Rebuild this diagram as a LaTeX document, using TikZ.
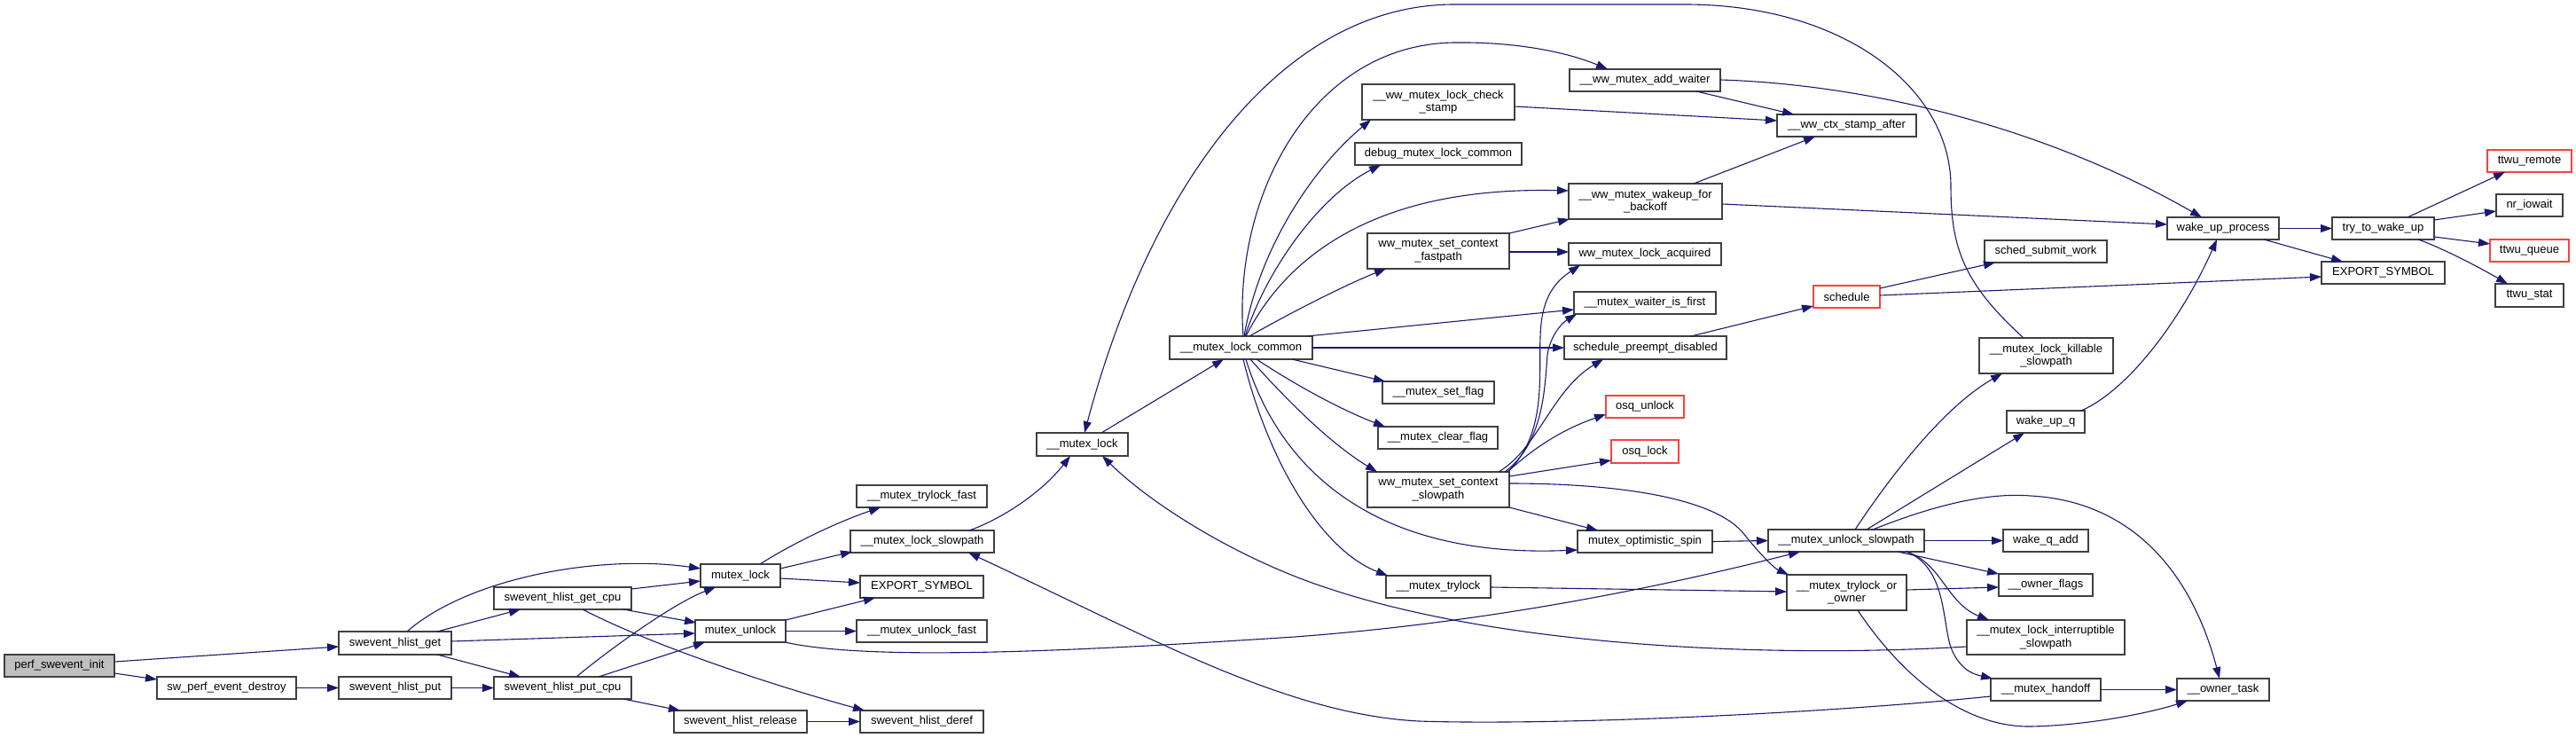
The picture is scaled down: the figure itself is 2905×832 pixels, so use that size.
\documentclass[tikz,border=0pt]{standalone}
\usepackage{fontspec}
\setmainfont{Liberation Sans}
\usetikzlibrary{arrows.meta,calc}
\definecolor{edgeblue}{RGB}{25,25,112}
\definecolor{redb}{RGB}{255,64,64}
\definecolor{greyfill}{RGB}{191,191,191}
\newcommand\nw[3]{($(#1.north west)+(#2,#3)$)}
\begin{document}
\begin{tikzpicture}[x=1pt,y=-1pt,
  box/.style={draw=black!75, line width=1.6pt, fill=white, inner sep=0pt, outer sep=0pt,
    align=center, font=\fontsize{13}{14.5}\selectfont, text=black},
  redbox/.style={box, draw=redb},
  ca/.style={draw=edgeblue, line width=1.1pt, -{Triangle[length=13pt,width=9pt]}, fill=none}]
\useasboundingbox (0,0) rectangle (2905,832);
% nodes
\node[box, fill=greyfill, minimum width=124pt, minimum height=25pt] (pinit) at (67,750.5) {perf\_swevent\_init};
\node[box, minimum width=157pt, minimum height=25pt] (swdestroy) at (255.5,775.5) {sw\_perf\_event\_destroy};
\node[box, minimum width=127pt, minimum height=26pt] (hget) at (445.5,725) {swevent\_hlist\_get};
\node[box, minimum width=127pt, minimum height=25pt] (hput) at (445.5,775.5) {swevent\_hlist\_put};
\node[box, minimum width=155pt, minimum height=25pt] (hgetcpu) at (634.5,674.5) {swevent\_hlist\_get\_cpu};
\node[box, minimum width=155pt, minimum height=25pt] (hputcpu) at (634.5,775.5) {swevent\_hlist\_put\_cpu};
\node[box, minimum width=90pt, minimum height=26pt] (mlock) at (835,649) {mutex\_lock};
\node[box, minimum width=102pt, minimum height=25pt] (munlock) at (835,711.5) {mutex\_unlock};
\node[box, minimum width=150pt, minimum height=25pt] (hrelease) at (835,813.5) {swevent\_hlist\_release};
\node[box, minimum width=147pt, minimum height=25pt] (trylockfast) at (1039.5,559.5) {\_\_mutex\_trylock\_fast};
\node[box, minimum width=162pt, minimum height=25pt] (lockslow) at (1040,610.5) {\_\_mutex\_lock\_slowpath};
\node[box, minimum width=139pt, minimum height=25pt] (exportL) at (1039.5,661.5) {EXPORT\_SYMBOL};
\node[box, minimum width=147pt, minimum height=25pt] (unlockfast) at (1039.5,711.5) {\_\_mutex\_unlock\_fast};
\node[box, minimum width=139pt, minimum height=25pt] (hderef) at (1039.5,813.5) {swevent\_hlist\_deref};
\node[box, minimum width=103pt, minimum height=26pt] (ulock) at (1220.5,501) {\_\_mutex\_lock};
\node[box, minimum width=161pt, minimum height=26pt] (lcommon) at (1399.5,392) {\_\_mutex\_lock\_common};
\node[box, minimum width=172pt, minimum height=40pt] (checkstamp) at (1622,115) {\_\_ww\_mutex\_lock\_check\\\_stamp};
\node[box, minimum width=188pt, minimum height=25pt] (debugcommon) at (1622,173.5) {debug\_mutex\_lock\_common};
\node[box, minimum width=160pt, minimum height=40pt] (fastpath) at (1622,283) {ww\_mutex\_set\_context\\\_fastpath};
\node[box, minimum width=126pt, minimum height=25pt] (setflag) at (1622,442.5) {\_\_mutex\_set\_flag};
\node[box, minimum width=135pt, minimum height=25pt] (clearflag) at (1621.5,493.5) {\_\_mutex\_clear\_flag};
\node[box, minimum width=160pt, minimum height=40pt] (slowpathctx) at (1622,552) {ww\_mutex\_set\_context\\\_slowpath};
\node[box, minimum width=118pt, minimum height=25pt] (trylock) at (1622,661.5) {\_\_mutex\_trylock};
\node[box, minimum width=170pt, minimum height=25pt] (addwaiter) at (1855,90.5) {\_\_ww\_mutex\_add\_waiter};
\node[box, minimum width=173pt, minimum height=40pt] (wakeupbackoff) at (1855.5,227) {\_\_ww\_mutex\_wakeup\_for\\\_backoff};
\node[box, minimum width=172pt, minimum height=25pt] (lockacq) at (1855,286.5) {ww\_mutex\_lock\_acquired};
\node[box, minimum width=160pt, minimum height=25pt] (waiterfirst) at (1855,341.5) {\_\_mutex\_waiter\_is\_first};
\node[box, minimum width=183pt, minimum height=26pt] (schedpreempt) at (1855.5,392) {schedule\_preempt\_disabled};
\node[redbox, minimum width=88pt, minimum height=25pt] (osqunlock) at (1855,458.5) {osq\_unlock};
\node[redbox, minimum width=76pt, minimum height=26pt] (osqlock) at (1855,509) {osq\_lock};
\node[box, minimum width=152pt, minimum height=25pt] (optspin) at (1855,610.5) {mutex\_optimistic\_spin};
\node[box, minimum width=157pt, minimum height=25pt] (stampafter) at (2082.5,141.5) {\_\_ww\_ctx\_stamp\_after};
\node[redbox, minimum width=75pt, minimum height=25pt] (schedule) at (2082.5,334.5) {schedule};
\node[box, minimum width=176pt, minimum height=25pt] (unlockslow) at (2082,609.5) {\_\_mutex\_unlock\_slowpath};
\node[box, minimum width=135pt, minimum height=40pt] (trylockowner) at (2082.5,668) {\_\_mutex\_trylock\_or\\\_owner};
\node[box, minimum width=138pt, minimum height=25pt] (submitwork) at (2307,283.5) {sched\_submit\_work};
\node[box, minimum width=151pt, minimum height=40pt] (killable) at (2307.5,401) {\_\_mutex\_lock\_killable\\\_slowpath};
\node[box, minimum width=88pt, minimum height=25pt] (wakeupq) at (2307,475.5) {wake\_up\_q};
\node[box, minimum width=96pt, minimum height=25pt] (wakeqadd) at (2307,609.5) {wake\_q\_add};
\node[box, minimum width=106pt, minimum height=25pt] (ownerflags) at (2307,659.5) {\_\_owner\_flags};
\node[box, minimum width=178pt, minimum height=39pt] (interruptible) at (2307,718.5) {\_\_mutex\_lock\_interruptible\\\_slowpath};
\node[box, minimum width=124pt, minimum height=25pt] (handoff) at (2307,777.5) {\_\_mutex\_handoff};
\node[box, minimum width=126pt, minimum height=25pt] (wakeupproc) at (2507,257.5) {wake\_up\_process};
\node[box, minimum width=104pt, minimum height=25pt] (ownertask) at (2507,777.5) {\_\_owner\_task};
\node[box, minimum width=115pt, minimum height=25pt] (trywake) at (2687.5,257.5) {try\_to\_wake\_up};
\node[box, minimum width=139pt, minimum height=25pt] (exportR) at (2687.5,307.5) {EXPORT\_SYMBOL};
\node[redbox, minimum width=95pt, minimum height=25pt] (ttwuremote) at (2852.5,181.5) {ttwu\_remote};
\node[box, minimum width=75pt, minimum height=25pt] (nriowait) at (2852.5,231.5) {nr\_iowait};
\node[redbox, minimum width=89pt, minimum height=25pt] (ttwuqueue) at (2852.5,282.5) {ttwu\_queue};
\node[box, minimum width=77pt, minimum height=26pt] (ttwustat) at (2852.5,333) {ttwu\_stat};
% edges
\draw[ca] \nw{pinit}{124}{8} -- \nw{hget}{0}{17};
\draw[ca] \nw{pinit}{124}{21} -- \nw{swdestroy}{0}{3};
\draw[ca] (swdestroy.east) -- (hput.west);
\draw[ca] \nw{hget}{77}{0} .. controls (530,650) and (680,625) .. \nw{mlock}{0}{5};
\draw[ca] \nw{hget}{111}{0} -- \nw{hgetcpu}{30}{25};
\draw[ca] \nw{hget}{127}{11} -- \nw{munlock}{0}{15};
\draw[ca] \nw{hget}{111}{26} -- \nw{hputcpu}{30}{0};
\draw[ca] (hput.east) -- (hputcpu.west);
\draw[ca] \nw{hgetcpu}{155}{2} -- \nw{mlock}{0}{19};
\draw[ca] \nw{hgetcpu}{146}{25} -- \nw{munlock}{1}{3};
\draw[ca] \nw{hgetcpu}{100}{25} .. controls (740,730) and (880,775) .. \nw{hderef}{5}{0};
\draw[ca] \nw{hputcpu}{93}{0} .. controls (690,730) and (760,680) .. \nw{mlock}{17}{26};
\draw[ca] \nw{hputcpu}{118}{0} -- \nw{munlock}{11}{25};
\draw[ca] \nw{hputcpu}{146}{25} -- \nw{hrelease}{7}{0};
\draw[ca] (hrelease.east) -- (hderef.west);
\draw[ca] \nw{mlock}{67}{0} .. controls (890,615) and (940,590) .. \nw{trylockfast}{27}{25};
\draw[ca] \nw{mlock}{90}{5} -- \nw{lockslow}{2}{24};
\draw[ca] \nw{mlock}{90}{16} -- \nw{exportL}{0}{8};
\draw[ca] \nw{munlock}{102}{0} -- \nw{exportL}{17}{25};
\draw[ca] (munlock.east) -- (unlockfast.west);
\draw[ca] \nw{munlock}{101}{25} .. controls (980,745) and (1200,735) .. (1460,718) .. controls (1700,700) and (1900,655) .. \nw{unlockslow}{36}{25};
\draw[ca] \nw{lockslow}{134}{0} .. controls (1130,585) and (1175,555) .. \nw{ulock}{38}{26};
\draw[ca] \nw{ulock}{73}{0} -- \nw{lcommon}{61}{26};
\draw[ca] \nw{killable}{50}{0} .. controls (2215,320) and (2200,280) .. (2200,210) .. controls (2200,100) and (2080,5) .. (1900,5) -- (1640,5) .. controls (1450,5) and (1300,200) .. \nw{ulock}{54}{0};
\draw[ca] \nw{interruptible}{0}{30} .. controls (2000,742) and (1700,730) .. (1500,664) .. controls (1400,632) and (1300,570) .. \nw{ulock}{74}{26};
\draw[ca] \nw{handoff}{0}{20} .. controls (2050,805) and (1750,818) .. (1600,813) .. controls (1450,805) and (1300,720) .. \nw{lockslow}{133}{25};
\draw[ca] \nw{lcommon}{83}{0} .. controls (1390,220) and (1480,50) .. (1640,48) .. controls (1720,47) and (1775,62) .. \nw{addwaiter}{43}{0};
\draw[ca] \nw{lcommon}{84}{0} .. controls (1420,280) and (1480,190) .. \nw{checkstamp}{10}{40};
\draw[ca] \nw{lcommon}{85}{0} .. controls (1430,300) and (1490,220) .. \nw{debugcommon}{29}{25};
\draw[ca] \nw{lcommon}{86}{0} .. controls (1450,290) and (1550,210) .. \nw{wakeupbackoff}{0}{8};
\draw[ca] \nw{lcommon}{90}{0} .. controls (1460,350) and (1520,320) .. \nw{fastpath}{21}{40};
\draw[ca] \nw{lcommon}{155}{0} -- \nw{waiterfirst}{0}{20};
\draw[ca] (lcommon.east) -- (schedpreempt.west);
\draw[ca] \nw{lcommon}{138}{26} -- \nw{setflag}{3}{0};
\draw[ca] \nw{lcommon}{98}{26} .. controls (1470,440) and (1520,465) .. \nw{clearflag}{8}{0};
\draw[ca] \nw{lcommon}{91}{26} .. controls (1450,450) and (1500,500) .. \nw{slowpathctx}{11}{0};
\draw[ca] \nw{lcommon}{86}{26} .. controls (1440,520) and (1540,630) .. \nw{optspin}{0}{22};
\draw[ca] \nw{lcommon}{83}{26} .. controls (1430,520) and (1490,620) .. \nw{trylock}{2}{0};
\draw[ca] \nw{fastpath}{160}{0} -- \nw{wakeupbackoff}{1}{40};
\draw[ca] \nw{fastpath}{160}{21} -- \nw{lockacq}{0}{10};
\draw[ca] \nw{slowpathctx}{158}{0} .. controls (1745,490) and (1735,420) .. (1737,380) .. controls (1738,340) and (1750,320) .. \nw{lockacq}{13}{25};
\draw[ca] \nw{slowpathctx}{155}{0} .. controls (1740,500) and (1742,440) .. (1745,400) .. controls (1748,380) and (1760,365) .. \nw{waiterfirst}{3}{25};
\draw[ca] \nw{slowpathctx}{148}{0} .. controls (1735,505) and (1750,440) .. \nw{schedpreempt}{44}{26};
\draw[ca] \nw{slowpathctx}{158}{0} .. controls (1730,505) and (1760,485) .. \nw{osqunlock}{0}{21};
\draw[ca] \nw{slowpathctx}{160}{5} -- \nw{osqlock}{0}{23};
\draw[ca] \nw{slowpathctx}{160}{13} .. controls (1820,545) and (1930,560) .. (1965,600) .. controls (1985,625) and (2000,640) .. \nw{trylockowner}{2}{0};
\draw[ca] \nw{slowpathctx}{160}{40} -- \nw{optspin}{23}{0};
\draw[ca] \nw{checkstamp}{172}{25} -- \nw{stampafter}{0}{7};
\draw[ca] \nw{addwaiter}{143}{25} -- \nw{stampafter}{19}{0};
\draw[ca] \nw{addwaiter}{170}{12} .. controls (2100,95) and (2300,140) .. \nw{wakeupproc}{39}{0};
\draw[ca] \nw{wakeupbackoff}{141}{0} -- \nw{stampafter}{43}{25};
\draw[ca] \nw{wakeupbackoff}{173}{23} -- \nw{wakeupproc}{0}{8};
\draw[ca] \nw{schedpreempt}{143}{0} -- \nw{schedule}{0}{23};
\draw[ca] \nw{schedule}{75}{3} -- \nw{submitwork}{12}{25};
\draw[ca] \nw{schedule}{75}{11} -- \nw{exportR}{0}{17};
\draw[ca] (wakeupproc.east) -- (trywake.west);
\draw[ca] \nw{wakeupproc}{109}{25} -- \nw{exportR}{24}{0};
\draw[ca] \nw{trywake}{85}{0} -- \nw{ttwuremote}{20}{25};
\draw[ca] \nw{trywake}{115}{3} -- \nw{nriowait}{0}{19};
\draw[ca] \nw{trywake}{115}{22} -- \nw{ttwuqueue}{0}{5};
\draw[ca] \nw{trywake}{97}{25} .. controls (2750,278) and (2790,298) .. \nw{ttwustat}{14}{0};
\draw[ca] \nw{wakeupq}{84}{0} .. controls (2400,440) and (2460,360) .. \nw{wakeupproc}{56}{25};
\draw[ca] \nw{unlockslow}{98}{0} .. controls (2130,540) and (2190,460) .. \nw{killable}{26}{40};
\draw[ca] \nw{unlockslow}{111}{0} -- \nw{wakeupq}{20}{25};
\draw[ca] \nw{unlockslow}{118}{0} .. controls (2180,570) and (2240,555) .. (2290,559) .. controls (2400,565) and (2470,640) .. \nw{ownertask}{48}{0};
\draw[ca] (unlockslow.east) -- (wakeqadd.west);
\draw[ca] \nw{unlockslow}{146}{25} -- \nw{ownerflags}{0}{0};
\draw[ca] \nw{unlockslow}{156}{25} .. controls (2190,635) and (2195,680) .. \nw{interruptible}{25}{0};
\draw[ca] \nw{unlockslow}{156}{25} .. controls (2195,640) and (2190,700) .. (2200,730) .. controls (2210,755) and (2225,760) .. \nw{handoff}{2}{0};
\draw[ca] \nw{trylockowner}{135}{17} -- \nw{ownerflags}{0}{15};
\draw[ca] \nw{trylockowner}{80}{40} .. controls (2150,770) and (2220,820) .. (2290,819) .. controls (2350,818) and (2420,805) .. \nw{ownertask}{12}{25};
\draw[ca] (handoff.east) -- (ownertask.west);
\draw[ca] \nw{trylock}{118}{13} -- \nw{trylockowner}{0}{19};
\draw[ca] (optspin.east) -- (unlockslow.west);
\end{tikzpicture}
\end{document}
